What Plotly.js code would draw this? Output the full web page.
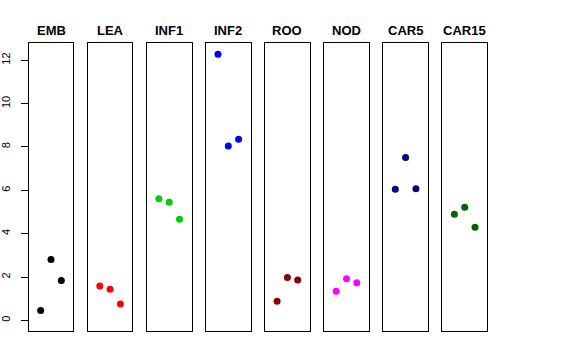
<!DOCTYPE html>
<html>
<head>
<meta charset="utf-8">
<script src="https://cdn.plot.ly/plotly-3.0.1.min.js"></script>
<style>html,body{margin:0;padding:0;background:#fff;}#chart{width:576px;height:360px;}</style>
</head>
<body>
<div id="chart"></div>
<script>
var categories = ["EMB", "LEA", "INF1", "INF2", "ROO", "NOD", "CAR5", "CAR15"];
var colors = ["#000000", "#FF0000", "#00CD00", "#0000FF", "#8B0000", "#FF00FF", "#00008B", "#006400"];
var replicate = [1, 2, 3];
var EMB = [0.46, 2.81, 1.84];
var LEA = [1.58, 1.43, 0.75];
var INF1 = [5.61, 5.45, 4.66];
var INF2 = [12.28, 8.04, 8.36];
var ROO = [0.88, 1.98, 1.86];
var NOD = [1.34, 1.92, 1.73];
var CAR5 = [6.05, 7.51, 6.07];
var CAR15 = [4.89, 5.22, 4.30];
var values = [EMB, LEA, INF1, INF2, ROO, NOD, CAR5, CAR15];
var yTicks = [0, 2, 4, 6, 8, 10, 12];

var W = 576, H = 360;
var left0 = 28.7, panelW = 44.6, step = 59.1;
var panelTop = 43.3, panelBottom = 331;
var yDom = [1 - panelBottom / H, 1 - panelTop / H];

var traces = [], annotations = [];
var layout = {
  width: W, height: H,
  margin: {l: 0, r: 0, t: 0, b: 0},
  paper_bgcolor: "#fff", plot_bgcolor: "#fff",
  showlegend: false,
  font: {family: "Liberation Sans, Arial, sans-serif", color: "#000"}
};
for (var i = 0; i < categories.length; i++) {
  var sfx = i === 0 ? "" : String(i + 1);
  traces.push({
    type: "scatter", mode: "markers",
    x: replicate, y: values[i],
    xaxis: "x" + sfx, yaxis: "y" + sfx,
    marker: {color: colors[i], size: 7},
    hoverinfo: "skip"
  });
  var x0 = left0 + i * step;
  layout["xaxis" + sfx] = {
    domain: [x0 / W, (x0 + panelW) / W],
    range: [-0.16, 4.16],
    anchor: "y" + sfx,
    showline: true, mirror: true, linecolor: "#000", linewidth: 1,
    showgrid: false, zeroline: false, showticklabels: false, ticks: ""
  };
  layout["yaxis" + sfx] = {
    domain: yDom,
    range: [-0.49, 12.78],
    anchor: "x" + sfx,
    showline: true, mirror: true, linecolor: "#000", linewidth: 1,
    showgrid: false, zeroline: false,
    tickmode: "array", tickvals: i === 0 ? yTicks : [],
    ticktext: i === 0 ? yTicks.map(String) : [],
    ticks: i === 0 ? "outside" : "", ticklen: 7, tickcolor: "#000",
    showticklabels: i === 0, tickangle: -90,
    ticklabelstandoff: 6,
    tickfont: {size: 11, family: "Liberation Sans, Arial, sans-serif", color: "#000"}
  };
  annotations.push({
    text: "<b>" + categories[i] + "</b>",
    xref: "paper", yref: "paper",
    x: (x0 + panelW / 2) / W, y: 1 - 30 / H,
    xanchor: "center", yanchor: "middle", showarrow: false,
    font: {size: 13, family: "Liberation Sans, Arial, sans-serif", color: "#000"}
  });
}
layout.annotations = annotations;
Plotly.newPlot("chart", traces, layout, {staticPlot: true, displayModeBar: false});
</script>
</body>
</html>
